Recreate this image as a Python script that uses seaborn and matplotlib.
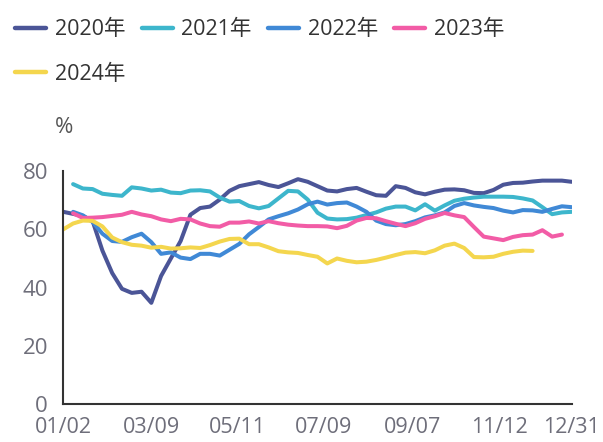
import numpy as np
import pandas as pd
import matplotlib
matplotlib.use("Agg")
import matplotlib.pyplot as plt
import seaborn as sns

nan = np.nan

# weekly values (week index 0..52)
y2020 = [66, 65.3, 64.6, 62.8, 52.7, 45, 39.6, 38.2, 38.6, 34.8, 44, 50, 56, 65, 67.3, 67.8, 70.2, 73.2,
         74.8, 75.5, 76.2, 75.2, 74.5, 75.8, 77.2, 76.3, 74.8, 73.3, 73, 73.8, 74.2, 72.9, 71.7, 71.5,
         74.8, 74.2, 72.7, 72, 72.9, 73.6, 73.7, 73.4, 72.5, 72.4, 73.5, 75.3, 75.9, 76, 76.4, 76.7,
         76.7, 76.7, 76.3]
y2021 = [nan, 75.5, 74, 73.8, 72.2, 71.8, 71.5, 74.4, 74, 73.3, 73.6, 72.6, 72.4, 73.3, 73.4, 73, 70.9,
         69.5, 69.7, 68, 67.2, 68, 70.6, 73.2, 73, 70.2, 65.7, 63.7, 63.4, 63.5, 64, 64.9, 65.8, 67.1,
         67.8, 67.8, 66.5, 68.6, 66.4, 68.2, 69.8, 70.5, 70.9, 71.2, 71.2, 71.2, 71.1, 70.6, 69.9, 67.6,
         65.2, 65.8, 66]
y2022 = [nan, 66, 64.8, 62.5, 58.5, 56, 55.7, 57.3, 58.5, 55.6, 51.6, 52.1, 50.3, 49.8, 51.6, 51.6, 51,
         53, 55, 58.3, 60.8, 63.4, 64.5, 65.5, 66.8, 68.6, 69.5, 68.5, 69, 69.2, 67.8, 66, 63, 61.8,
         61.4, 61.8, 62.8, 64.1, 64.8, 65.8, 68, 69, 68.2, 67.7, 67.3, 66.4, 65.8, 66.6, 66.5, 66, 67,
         67.9, 67.6]
y2023 = [nan, 65.5, 63.9, 64, 64.2, 64.6, 65, 66, 65.1, 64.5, 63.4, 62.8, 63.6, 63.4, 62, 61.1, 60.9,
         62.3, 62.3, 62.7, 62, 62.8, 62.1, 61.6, 61.3, 61.1, 61.1, 61, 60.4, 61.2, 63, 63.9, 63.8, 62.8,
         61.9, 61.1, 62.1, 63.6, 64.5, 65.6, 64.8, 64.2, 60.8, 57.5, 56.9, 56.3, 57.4, 58, 58.2, 59.7,
         57.5, 58.2]
y2024 = [60, 62, 63, 62.9, 61, 57.2, 55.6, 54.7, 54.4, 53.7, 54, 53.4, 53.5, 53.8, 53.6, 54.6, 55.8,
         56.7, 56.8, 54.9, 54.9, 53.8, 52.5, 52.1, 51.9, 51.2, 50.6, 48.3, 50, 49.2, 48.7, 48.9, 49.5,
         50.3, 51.2, 52, 52.2, 51.8, 52.8, 54.4, 55.1, 53.6, 50.5, 50.4, 50.6, 51.6, 52.3, 52.7, 52.6]

years = ["2020年", "2021年", "2022年", "2023年", "2024年"]
series = [y2020, y2021, y2022, y2023, y2024]
tick_labels = ["01/02", "03/09", "05/11", "07/09", "09/07", "11/12", "12/31"]
tick_weeks = [0, 9.04, 17.84, 26.63, 35.70, 44.56, 52]
y_ticks = [0, 20, 40, 60, 80]

colors = ["#4b5597", "#3db6cc", "#4089d6", "#f25ca6", "#f4d64e"]

rows = []
for name, vals in zip(years, series):
    for i, v in enumerate(vals):
        if not np.isnan(v):
            rows.append({"week": i, "value": v, "year": name})
df = pd.DataFrame(rows)

sns.set_theme(style="white")
plt.rcParams["font.family"] = ["Open Sans", "Noto Sans CJK SC", "DejaVu Sans"]

fig = plt.figure(figsize=(6.03, 4.42), dpi=100)
ax = fig.add_axes([0.105, 0.0853, 0.8431, 0.5278])

sns.lineplot(data=df, x="week", y="value", hue="year", hue_order=years,
             palette=colors, linewidth=2.9, ax=ax, legend=True, sort=False)

ax.set_xlim(0, 52)
ax.set_ylim(0, 80)
ax.set_xticks(tick_weeks)
ax.set_xticklabels(tick_labels)
ax.set_yticks(y_ticks)
ax.set_xlabel("")
ax.set_ylabel("")
for s in ["top", "right"]:
    ax.spines[s].set_visible(False)
for s in ["left", "bottom"]:
    ax.spines[s].set_color("#333333")
    ax.spines[s].set_linewidth(1.5)
ax.tick_params(axis="x", direction="out", length=6, width=1.5, color="#333333",
               labelsize=15.5, labelcolor="#6e6e7a", pad=3)
ax.tick_params(axis="y", direction="in", length=6, width=1.5, color="#333333",
               labelsize=16, labelcolor="#6e6e7a", pad=11)
ax.grid(False)

handles, labels = ax.get_legend_handles_labels()
ax.get_legend().remove()
order = [0, 4, 1, 2, 3]  # row-wise layout: 2020-2023 on first row, 2024 on second
leg = fig.legend([handles[i] for i in order], [labels[i] for i in order],
                 loc="upper left", bbox_to_anchor=(0.0, 0.99), ncol=4,
                 frameon=False, fontsize=15.5, handlelength=1.45, handletextpad=0.4,
                 columnspacing=0.75, labelspacing=1.08, borderaxespad=0.3)
for t in leg.get_texts():
    t.set_color("#333333")
for h in leg.legend_handles:
    h.set_linewidth(3.2)

fig.text(0.106, 0.712, "%", ha="center", va="center", fontsize=16, color="#555555")

fig.savefig("out.png", dpi=100)
